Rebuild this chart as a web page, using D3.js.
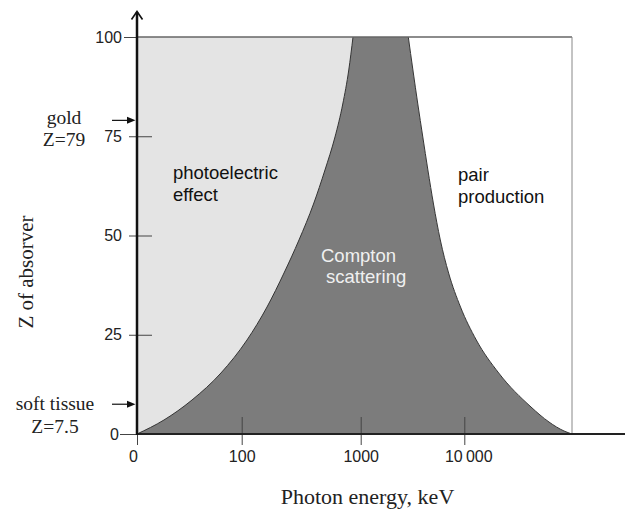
<!DOCTYPE html>
<html>
<head>
<meta charset="utf-8">
<script src="https://cdn.jsdelivr.net/npm/d3@7"></script>
<style>
  html, body { margin: 0; padding: 0; background: #fff; }
  svg { display: block; }
</style>
</head>
<body>
<svg id="chart" width="625" height="511"></svg>
<script>
// Photon energy (keV) axis ticks and their printed labels
const energyTicks = [10, 100, 1000, 10000];
const energyTickLabels = ["0", "100", "1000", "10\u2009000"];
// Atomic number axis ticks
const zTicks = [0, 25, 50, 75, 100];

// Boundary where photoelectric effect and Compton scattering are equally likely: [keV, Z]
const photoComptonBoundary = [
  [10, 0], [18.1, 3.53], [33.5, 8.56], [63.4, 15.37], [110.8, 23.68], [163.2, 31.99],
  [226.7, 40.55], [303, 48.87], [401.3, 57.93], [501, 66.5], [608, 74.81],
  [707, 83.12], [794, 91.69], [861.6, 100]
];
// Boundary where Compton scattering and pair production are equally likely: [keV, Z]
const comptonPairBoundary = [
  [2881, 100], [3191, 91.69], [3558, 83.12], [3976, 74.81], [4452, 66.5],
  [5042, 57.93], [5866, 48.87], [7055, 40.55], [9191, 31.99], [12925, 23.68],
  [20860, 15.37], [41630, 6.8], [61140, 3.02], [84300, 0.76], [100000, 0]
];

// Reference absorbers marked on the Z axis
const absorberNames = [["gold", "Z=79"], ["soft tissue", "Z=7.5"]];
const absorberZ = [79, 7.5];

// Interaction regions
const regionNames = [["photoelectric", "effect"], ["Compton", "scattering"], ["pair", "production"]];

const svg = d3.select("#chart");
const SANS = "'Liberation Sans', Arial, sans-serif";
const SERIF = "'Liberation Serif', 'Times New Roman', serif";

// Decades on the energy axis are hand-spaced, so the log scale is piecewise
const x = d3.scaleLog()
  .domain([10, 100, 1000, 10000, 100000])
  .range([137, 241.7, 360.7, 464.3, 572]);
const y = d3.scaleLinear().domain([0, 100]).range([434, 37]);

const eMin = 10, eMax = 100000, zMax = 100;

const line = d3.line()
  .x(d => x(d[0]))
  .y(d => y(d[1]))
  .curve(d3.curveMonotoneX);

const b1 = line(photoComptonBoundary);
const b2 = line(comptonPairBoundary);

// Region fills
svg.append("path")
  .attr("d", b1 + `L${x(eMin)},${y(zMax)}Z`)
  .attr("fill", "#e4e4e4");
svg.append("path")
  .attr("d", b1 + b2.replace(/^M/, "L") + "Z")
  .attr("fill", "#7c7c7c");
svg.append("path")
  .attr("d", b2 + `L${x(eMax)},${y(zMax)}Z`)
  .attr("fill", "#ffffff");

// Boundary curves
[b1, b2].forEach(d => {
  svg.append("path")
    .attr("d", d)
    .attr("fill", "none")
    .attr("stroke", "#333")
    .attr("stroke-width", 1);
});

// Frame: top edge and right edge
svg.append("line")
  .attr("x1", x(eMin)).attr("x2", x(eMax))
  .attr("y1", y(zMax)).attr("y2", y(zMax))
  .attr("stroke", "#666").attr("stroke-width", 1.5);
svg.append("line")
  .attr("x1", x(eMax)).attr("x2", x(eMax))
  .attr("y1", y(zMax)).attr("y2", y(0))
  .attr("stroke", "#888").attr("stroke-width", 1);

// X axis ticks and labels
const xAxis = d3.axisBottom(x)
  .tickValues(energyTicks)
  .tickFormat((d, i) => energyTickLabels[i])
  .tickSize(11)
  .tickPadding(6);
const gx = svg.append("g")
  .attr("transform", `translate(0,${y(0)})`)
  .call(xAxis);
gx.select(".domain").remove();
gx.selectAll(".tick line")
  .attr("y1", d => d === eMin ? 0 : -17)
  .attr("stroke", "#444");
gx.selectAll(".tick text")
  .attr("dx", d => d === eMin ? -4 : (d === 10000 ? 4 : 0))
  .attr("font-family", SANS)
  .attr("font-size", 16)
  .attr("fill", "#222");

// Y axis ticks and labels
const yAxis = d3.axisLeft(y)
  .tickValues(zTicks)
  .tickSize(8)
  .tickPadding(7);
const gy = svg.append("g")
  .attr("transform", `translate(${x(eMin)},0)`)
  .call(yAxis);
gy.select(".domain").remove();
gy.selectAll(".tick line")
  .attr("x1", d => (d === 0 || d === 100) ? 0 : 15)
  .attr("x2", d => d === 0 ? -17 : (d === 100 ? -13 : -8))
  .attr("stroke", "#444");
gy.selectAll(".tick text")
  .attr("x", d => d === 0 ? -18 : -15)
  .attr("font-family", SANS)
  .attr("font-size", 16)
  .attr("fill", "#222");

// Axis lines
svg.append("line")
  .attr("x1", x(eMin) - 1).attr("x2", 625)
  .attr("y1", y(0)).attr("y2", y(0))
  .attr("stroke", "#222").attr("stroke-width", 2);
svg.append("line")
  .attr("x1", x(eMin)).attr("x2", x(eMin))
  .attr("y1", y(0) + 1).attr("y2", 12)
  .attr("stroke", "#111").attr("stroke-width", 2.5);
svg.append("path")
  .attr("d", `M${x(eMin) - 5.5},19.5L${x(eMin)},11.5L${x(eMin) + 5.5},19.5`)
  .attr("fill", "none")
  .attr("stroke", "#111")
  .attr("stroke-width", 1.6);

// Absorber markers
const labelCx = [64, 55];
absorberZ.forEach((z, i) => {
  const yy = y(z);
  svg.append("line")
    .attr("x1", 112).attr("x2", 128)
    .attr("y1", yy).attr("y2", yy)
    .attr("stroke", "#111").attr("stroke-width", 1.2);
  svg.append("path")
    .attr("d", `M${x(eMin) - 1.5},${yy}L${x(eMin) - 10},${yy - 3.5}L${x(eMin) - 10},${yy + 3.5}Z`)
    .attr("fill", "#111");
  const t = svg.append("text")
    .attr("font-family", SERIF)
    .attr("font-size", 19.5)
    .attr("fill", "#222")
    .attr("text-anchor", "middle");
  t.append("tspan").attr("x", labelCx[i]).attr("y", i === 0 ? 124 : 410).text(absorberNames[i][0]);
  t.append("tspan").attr("x", labelCx[i]).attr("y", i === 0 ? 146 : 433).text(absorberNames[i][1]);
});

// Region labels
const regionPos = [
  { x: [173, 173], y: [179, 201], fill: "#111" },
  { x: [321, 326], y: [262, 283], fill: "#f0f0f0" },
  { x: [458, 458], y: [181, 203], fill: "#111" }
];
regionNames.forEach((lines, i) => {
  const p = regionPos[i];
  const t = svg.append("text")
    .attr("font-family", SANS)
    .attr("font-size", 18.5)
    .attr("fill", p.fill);
  lines.forEach((s, j) => {
    t.append("tspan").attr("x", p.x[j]).attr("y", p.y[j]).text(s);
  });
});

// Axis titles
svg.append("text")
  .attr("x", 367.5).attr("y", 504)
  .attr("text-anchor", "middle")
  .attr("font-family", SERIF)
  .attr("font-size", 22)
  .attr("fill", "#222")
  .text("Photon energy, keV");
svg.append("text")
  .attr("transform", "translate(33,272) rotate(-90)")
  .attr("text-anchor", "middle")
  .attr("font-family", SERIF)
  .attr("font-size", 21)
  .attr("fill", "#222")
  .text("Z of absorver");
</script>
</body>
</html>
